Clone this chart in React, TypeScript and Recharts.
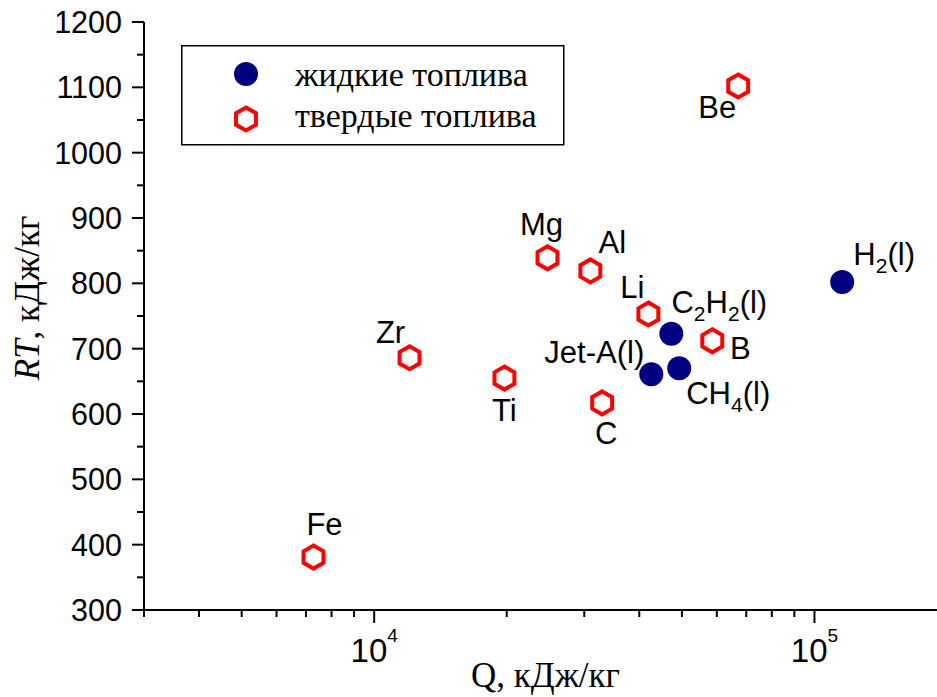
import React from 'react'
import { ScatterChart, Scatter, XAxis, YAxis, Legend } from 'recharts'

// solid fuels
const solidNames = ['Be', 'Mg', 'Al', 'Li', 'B', 'C', 'Ti', 'Zr', 'Fe']
const solidQ = [67100, 24750, 30970, 41950, 58600, 32940, 19760, 12030, 7280]
const solidRT = [1102, 839, 819, 753, 712, 617, 655, 686, 381]

// liquid fuels
const liquidNames = ['C2H2(l)', 'Jet-A(l)', 'CH4(l)', 'H2(l)']
const liquidQ = [47300, 42600, 49300, 115600]
const liquidRT = [723, 661, 670, 802]

const qTicks = [
  3000, 4000, 5000, 6000, 7000, 8000, 9000, 10000,
  20000, 30000, 40000, 50000, 60000, 70000, 80000, 90000, 100000, 200000,
]
const qMajor = [10000, 100000]
const rtTicks = [
  300, 350, 400, 450, 500, 550, 600, 650, 700, 750, 800, 850, 900, 950,
  1000, 1050, 1100, 1150, 1200,
]
const rtMajor = [300, 400, 500, 600, 700, 800, 900, 1000, 1100, 1200]

const legendLabels = ['жидкие топлива', 'твердые топлива']

// where each point's name sits relative to the marker
const labelOffset: Record<string, [number, number]> = {
  Be: [-21, 21],
  Mg: [-6, -34],
  Al: [22, -29],
  Li: [-16, -27],
  B: [28, 7],
  C: [4, 30],
  Ti: [0, 32],
  Zr: [-19, -26],
  Fe: [11, -33],
  'C2H2(l)': [48, -32],
  'Jet-A(l)': [-57, -22],
  'CH4(l)': [49, 25],
  'H2(l)': [42, -28],
}

const solid = solidNames.map((name, i) => ({ name, q: solidQ[i], rt: solidRT[i] }))
const liquid = liquidNames.map((name, i) => ({ name, q: liquidQ[i], rt: liquidRT[i] }))

const SANS = "'Liberation Sans', Arial, sans-serif"
const SERIF = "'Liberation Serif', 'Times New Roman', serif"
const NAVY = '#000080'
const RED = '#ff0000'

const hexPoints = (cx: number, cy: number, r: number) => {
  const h = r * 0.866
  return [
    [cx, cy - r],
    [cx + h, cy - r / 2],
    [cx + h, cy + r / 2],
    [cx, cy + r],
    [cx - h, cy + r / 2],
    [cx - h, cy - r / 2],
  ]
    .map((p) => p.join(','))
    .join(' ')
}

// digits after element symbols go down as subscripts
const chemText = (s: string) => {
  const parts = s.match(/\d+|\D+/g) || []
  let down = false
  return parts.map((p, i) => {
    if (/^\d+$/.test(p)) {
      down = true
      return (
        <tspan key={i} dy={8} fontSize={21}>
          {p}
        </tspan>
      )
    }
    const dy = down ? -8 : 0
    down = false
    return (
      <tspan key={i} dy={dy}>
        {p}
      </tspan>
    )
  })
}

const PointLabel = ({ cx, cy, name }: { cx: number; cy: number; name: string }) => {
  const [dx, dy] = labelOffset[name] || [0, -30]
  return (
    <text x={cx + dx} y={cy + dy + 11} textAnchor="middle" fontFamily={SANS} fontSize={31} fill="#000">
      {chemText(name)}
    </text>
  )
}

const SolidMark = (props: any) => {
  const { cx, cy, payload } = props
  return (
    <g>
      <polygon points={hexPoints(cx, cy, 11.5)} fill="#fff" stroke={RED} strokeWidth={4} />
      <PointLabel cx={cx} cy={cy} name={payload.name} />
    </g>
  )
}

const LiquidMark = (props: any) => {
  const { cx, cy, payload } = props
  return (
    <g>
      <circle cx={cx} cy={cy} r={12} fill={NAVY} />
      <PointLabel cx={cx} cy={cy} name={payload.name} />
    </g>
  )
}

const QTick = (props: any) => {
  const { x, y, payload } = props
  const major = qMajor.includes(payload.value)
  const exp = Math.round(Math.log10(payload.value))
  return (
    <g>
      <line x1={x} x2={x} y1={y} y2={y + (major ? 13 : 7)} stroke="#000" strokeWidth={2} />
      {major && (
        <text x={x} y={y + 52} textAnchor="middle" fontFamily={SANS} fontSize={33} fill="#000">
          10
          <tspan dy={-20} fontSize={19}>
            {exp}
          </tspan>
        </text>
      )}
    </g>
  )
}

const QTopTick = (props: any) => {
  const { x, y, payload } = props
  const major = qMajor.includes(payload.value)
  return <line x1={x} x2={x} y1={y} y2={y + (major ? 12 : 7)} stroke="#000" strokeWidth={2} />
}

const RTTick = (props: any) => {
  const { x, y, payload } = props
  const major = rtMajor.includes(payload.value)
  return (
    <g>
      <line x1={x - (major ? 12 : 7)} x2={x} y1={y} y2={y} stroke="#000" strokeWidth={2} />
      {major && (
        <text x={x - 22} y={y + 11} textAnchor="end" fontFamily={SANS} fontSize={30.5} fill="#000">
          {payload.value}
        </text>
      )}
    </g>
  )
}

const QTitle = (props: any) => {
  const { viewBox } = props
  return (
    <text x={viewBox.x + viewBox.width / 2} y={viewBox.y + 77} textAnchor="middle" fontFamily={SERIF} fontSize={35} fill="#000">
      Q, кДж/кг
    </text>
  )
}

const RTTitle = (props: any) => {
  const { viewBox } = props
  const x = 39
  const y = viewBox.y + 276
  return (
    <text x={x} y={y} transform={`rotate(-90 ${x} ${y})`} textAnchor="middle" fontFamily={SERIF} fontSize={35} fill="#000">
      <tspan fontStyle="italic">RT</tspan>, кДж/кг
    </text>
  )
}

const LegendBox = () => (
  <svg width={384} height={101} style={{ display: 'block' }}>
    <rect x={0.75} y={0.75} width={382} height={99} fill="#fff" stroke="#000" strokeWidth={1.5} />
    <circle cx={65} cy={29} r={12} fill={NAVY} />
    <polygon points={hexPoints(65, 74, 11.5)} fill="#fff" stroke={RED} strokeWidth={4} />
    <text x={114} y={41} fontFamily={SERIF} fontSize={34} fill="#000">
      {legendLabels[0]}
    </text>
    <text x={114} y={82} fontFamily={SERIF} fontSize={34} fill="#000">
      {legendLabels[1]}
    </text>
  </svg>
)

export default function App() {
  return (
    <div style={{ position: 'absolute', left: 0, top: 0, width: 937, height: 697, overflow: 'hidden', background: '#fff' }}>
      <ScatterChart width={950} height={697} margin={{ top: 22, right: 3, bottom: 0, left: 0 }}>
        <XAxis
          dataKey="q"
          type="number"
          scale="log"
          domain={[3000, 200000]}
          allowDataOverflow
          ticks={qTicks}
          interval={0}
          tick={<QTick />}
          tickLine={false}
          tickSize={0}
          tickMargin={0}
          height={87}
          axisLine={{ stroke: '#000', strokeWidth: 2 }}
          label={<QTitle />}
        />
        <XAxis
          xAxisId="top"
          orientation="top"
          dataKey="q"
          type="number"
          scale="log"
          domain={[3000, 200000]}
          allowDataOverflow
          ticks={qTicks}
          interval={0}
          tick={<QTopTick />}
          tickLine={false}
          tickSize={0}
          tickMargin={0}
          height={0}
          axisLine={{ stroke: '#000', strokeWidth: 2 }}
        />
        <YAxis
          dataKey="rt"
          type="number"
          domain={[300, 1200]}
          allowDataOverflow
          ticks={rtTicks}
          interval={0}
          tick={<RTTick />}
          tickLine={false}
          tickSize={0}
          tickMargin={0}
          width={144}
          axisLine={{ stroke: '#000', strokeWidth: 2 }}
          label={<RTTitle />}
        />
        <Legend
          layout="horizontal"
          verticalAlign="middle"
          align="center"
          wrapperStyle={{ position: 'absolute', left: 181, top: 45, width: 384, height: 101 }}
          content={() => <LegendBox />}
        />
        <Scatter name={legendLabels[1]} data={solid} shape={<SolidMark />} isAnimationActive={false} />
        <Scatter name={legendLabels[0]} data={liquid} shape={<LiquidMark />} isAnimationActive={false} />
      </ScatterChart>
    </div>
  )
}
